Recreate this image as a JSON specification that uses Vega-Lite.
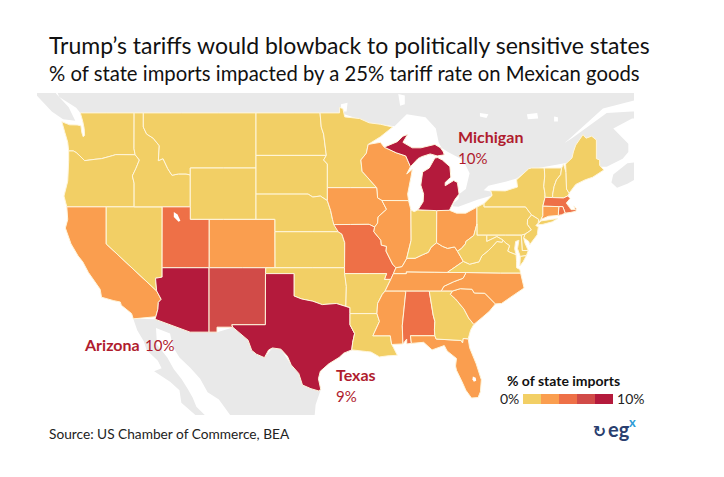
{
"$schema":"https://vega.github.io/schema/vega-lite/v6.json",
"width":597,"height":322,"autosize":"none",
"padding":{"left":37,"top":93,"right":90,"bottom":62},
"background":"white",
"title":{"text":"Trump’s tariffs would blowback to politically sensitive states","subtitle":"% of state imports impacted by a 25% tariff rate on Mexican goods","anchor":"start","frame":"group","dx":12,"offset":8,"font":"Lato","fontSize":23,"fontWeight":"normal","color":"#111111","subtitleFont":"Lato","subtitleFontSize":20.3,"subtitleColor":"#111111","subtitlePadding":6},
"projection":{"type":"mercator","scale":538,"center":[-104.05,45],"translate":[219,75]},
"config":{"view":{"stroke":null},"legend":{"gradientLength":90,"gradientThickness":10}},
"layer":[
{"data":{"values":[
{"type":"Feature","properties":{"name":"Canada"},"geometry":{"type":"Polygon","coordinates":[[[-125.6,51],[-122,51],[-118,51],[-114,51],[-110,51],[-106,51],[-102,51],[-98,51],[-94,51],[-90,51],[-86,51],[-82,51],[-78,51],[-74,51],[-70,51],[-66,51],[-63,51],[-63,50],[-67.1,49.3],[-70.6,47.2],[-71.2,46.85],[-70.4,47.2],[-66.7,49],[-64,49.1],[-63,49.1],[-63,48.6],[-64,48.6],[-66,47.9],[-64.4,46.8],[-64.4,46.2],[-65,45.7],[-66.7,45.1],[-67.45,45.1],[-70,45.5],[-74,45],[-75,44.9],[-76.3,44.2],[-77.5,43.95],[-79.3,43.65],[-79.8,43.3],[-79.05,43.2],[-79,42.88],[-80.4,42.58],[-82.5,42],[-83.1,42.05],[-83,42.3],[-82.5,42.6],[-82.4,43],[-81.7,43.4],[-81.3,44.6],[-82,45.6],[-83.6,46.2],[-84.3,46.5],[-84.6,46.9],[-84.9,47.9],[-86,48.7],[-88,48.9],[-89.3,48.05],[-92,48.3],[-95,49],[-99,49],[-103,49],[-107,49],[-111,49],[-115,49],[-119,49],[-122.76,49],[-123.2,49.35],[-125,50.1],[-125.6,51]]]}},
{"type":"Feature","properties":{"name":"Vancouver Island"},"geometry":{"type":"Polygon","coordinates":[[[-128.5,51],[-125.9,51],[-125.3,50.3],[-124,49.4],[-123.3,48.45],[-124.6,48.55],[-125.8,49.1],[-127.4,50.2],[-128.5,51]]]}},
{"type":"Feature","properties":{"name":"Nova Scotia"},"geometry":{"type":"Polygon","coordinates":[[[-66,44.5],[-64.5,45.35],[-63,45.5],[-63,44.4],[-64.5,43.8],[-65.6,43.5],[-66.2,43.9],[-66,44.5]]]}},
{"type":"Feature","properties":{"name":"Mexico"},"geometry":{"type":"Polygon","coordinates":[[[-117.12,32.53],[-114.81,32.5],[-111.07,31.33],[-108.2,31.33],[-106.5,31.75],[-104.9,30.6],[-103.15,28.98],[-102.3,29.88],[-101.4,29.77],[-100.3,28.3],[-99.5,27.5],[-99.1,26.4],[-97.4,25.84],[-97.15,25.96],[-97.7,24.5],[-97.8,23.5],[-97.8,22.5],[-100,22.5],[-103,22.5],[-105.5,22.5],[-106.8,23.5],[-108,25],[-109.2,25.7],[-110,27],[-111,28],[-112.2,29],[-112.9,30],[-113.2,31.2],[-114.7,31.7],[-114.6,30.2],[-113.5,29],[-112.8,27.9],[-112,27],[-111.3,26],[-110.8,25.2],[-110.4,24.3],[-109.5,23.5],[-109.5,22.5],[-110.5,22.5],[-110.5,23.5],[-112,24.7],[-112.2,25.9],[-113.2,26.7],[-114.9,27.7],[-114.1,28],[-114.5,28.7],[-115.7,29.7],[-116,30.5],[-116.7,31.5],[-117.12,32.53]]]}}
]},"mark":{"type":"geoshape","clip":true,"fill":"#E9E9E9","stroke":null},"encoding":{}},
{"data":{"values":[
{"type":"Feature","properties":{"name":"Lake of the Woods"},"geometry":{"type":"Polygon","coordinates":[[[-95,49.6],[-94.3,49.7],[-94.4,49.1],[-95,49.1],[-95,49.6]]]}},
{"type":"Feature","properties":{"name":"Nipigon"},"geometry":{"type":"Polygon","coordinates":[[[-88.9,50.3],[-88.2,50.2],[-88.2,49.6],[-88.7,49.5],[-88.9,50.3]]]}},
{"type":"Feature","properties":{"name":"Abitibi"},"geometry":{"type":"Polygon","coordinates":[[[-80.2,49],[-79.3,48.9],[-79.5,48.65],[-80.2,48.75],[-80.2,49]]]}},
{"type":"Feature","properties":{"name":"Gouin"},"geometry":{"type":"Polygon","coordinates":[[[-75.2,48.9],[-74.1,49],[-74,48.6],[-75.1,48.55],[-75.2,48.9]]]}},
{"type":"Feature","properties":{"name":"Saint-Jean"},"geometry":{"type":"Polygon","coordinates":[[[-72.3,48.75],[-71.9,48.7],[-71.9,48.4],[-72.3,48.4],[-72.3,48.75]]]}}
]},"mark":{"type":"geoshape","clip":true,"fill":"white","stroke":null},"encoding":{}},
{"data":{"values":[
{"type":"Feature","properties":{"name":"WA","pct":1},"geometry":{"type":"Polygon","coordinates":[[[-124.73,48.38],[-123.9,48.16],[-123.1,48.15],[-122.7,48.1],[-122.6,47.6],[-122.45,47.3],[-122.3,47.4],[-122.35,47.9],[-122.5,48.4],[-122.76,49],[-120,49],[-117.03,49],[-117.04,46.42],[-116.92,45.99],[-118.98,46],[-119.3,45.93],[-120.5,45.7],[-121.2,45.65],[-122.3,45.55],[-122.8,45.9],[-123.2,46.15],[-123.5,46.27],[-124,46.27],[-124.1,46.9],[-124.4,47.6],[-124.73,48.38]]]}},
{"type":"Feature","properties":{"name":"OR","pct":1},"geometry":{"type":"Polygon","coordinates":[[[-124,46.27],[-123.5,46.27],[-123.2,46.15],[-122.8,45.9],[-122.3,45.55],[-121.2,45.65],[-120.5,45.7],[-119.3,45.93],[-118.98,46],[-116.92,45.99],[-116.47,45.6],[-116.85,44.95],[-117.22,44.4],[-117.03,43.85],[-117.03,42],[-120,42],[-124.2,42],[-124.5,42.85],[-124.1,44],[-124,45.5],[-124,46.27]]]}},
{"type":"Feature","properties":{"name":"CA","pct":3},"geometry":{"type":"Polygon","coordinates":[[[-124.2,42],[-120,42],[-120,39],[-114.63,35],[-114.15,34.27],[-114.45,34],[-114.5,33.4],[-114.72,32.72],[-117.12,32.53],[-117.3,33],[-118.4,33.75],[-118.5,34.03],[-119.2,34.15],[-120.5,34.45],[-120.65,35.15],[-121.9,36.6],[-122.5,37.5],[-123,38],[-123.75,39],[-124.35,40.3],[-124.1,41],[-124.2,42]]]}},
{"type":"Feature","properties":{"name":"NV","pct":1},"geometry":{"type":"Polygon","coordinates":[[[-120,42],[-117.03,42],[-114.04,42],[-114.05,37],[-114.05,36.2],[-114.75,36.1],[-114.63,35],[-120,39],[-120,42]]]}},
{"type":"Feature","properties":{"name":"ID","pct":1},"geometry":{"type":"Polygon","coordinates":[[[-117.03,49],[-116.05,49],[-116.05,48],[-115.7,47.5],[-115,47.2],[-114.35,46.65],[-114.45,45.55],[-113.95,45.7],[-113.45,44.95],[-113,44.45],[-112.3,44.55],[-111.5,44.55],[-111.05,44.47],[-111.05,42],[-114.04,42],[-117.03,42],[-117.03,43.85],[-117.22,44.4],[-116.85,44.95],[-116.47,45.6],[-116.92,45.99],[-117.04,46.42],[-117.03,49]]]}},
{"type":"Feature","properties":{"name":"MT","pct":1},"geometry":{"type":"Polygon","coordinates":[[[-116.05,49],[-112,49],[-108,49],[-104.05,49],[-104.05,45],[-107.5,45],[-111.05,45],[-111.05,44.47],[-111.5,44.55],[-112.3,44.55],[-113,44.45],[-113.45,44.95],[-113.95,45.7],[-114.45,45.55],[-114.35,46.65],[-115,47.2],[-115.7,47.5],[-116.05,48],[-116.05,49]]]}},
{"type":"Feature","properties":{"name":"WY","pct":1},"geometry":{"type":"Polygon","coordinates":[[[-111.05,45],[-107.5,45],[-104.05,45],[-104.05,41],[-107.5,41],[-111.05,41],[-111.05,45]]]}},
{"type":"Feature","properties":{"name":"ND","pct":1},"geometry":{"type":"Polygon","coordinates":[[[-104.05,49],[-100,49],[-97.23,49],[-97.1,48],[-96.85,47.5],[-96.56,45.94],[-100,45.94],[-104.05,45.94],[-104.05,49]]]}},
{"type":"Feature","properties":{"name":"SD","pct":1},"geometry":{"type":"Polygon","coordinates":[[[-104.05,45.94],[-100,45.94],[-96.56,45.94],[-96.85,45.6],[-96.45,45.3],[-96.45,43.5],[-96.45,42.49],[-97.2,42.85],[-98,42.77],[-98.5,43],[-100,43],[-104.05,43],[-104.05,45.94]]]}},
{"type":"Feature","properties":{"name":"NE","pct":1},"geometry":{"type":"Polygon","coordinates":[[[-104.05,43],[-100,43],[-98.5,43],[-98,42.77],[-97.2,42.85],[-96.45,42.49],[-96.1,41.7],[-95.9,41],[-95.3,40],[-98,40],[-102.05,40],[-102.05,41],[-104.05,41],[-104.05,43]]]}},
{"type":"Feature","properties":{"name":"KS","pct":1},"geometry":{"type":"Polygon","coordinates":[[[-102.05,40],[-98,40],[-95.3,40],[-94.9,39.8],[-94.6,39.1],[-94.62,37],[-98,37],[-102.04,37],[-102.05,40]]]}},
{"type":"Feature","properties":{"name":"CO","pct":3},"geometry":{"type":"Polygon","coordinates":[[[-109.05,41],[-107.5,41],[-104.05,41],[-102.05,41],[-102.05,40],[-102.04,37],[-105.5,37],[-109.05,37],[-109.05,41]]]}},
{"type":"Feature","properties":{"name":"UT","pct":5},"geometry":{"type":"Polygon","coordinates":[[[-114.04,42],[-111.05,42],[-111.05,41],[-109.05,41],[-109.05,37],[-111.5,37],[-114.05,37],[-114.04,42]]]}},
{"type":"Feature","properties":{"name":"AZ","pct":10},"geometry":{"type":"Polygon","coordinates":[[[-114.05,37],[-111.5,37],[-109.05,37],[-109.05,31.33],[-111.07,31.33],[-114.81,32.5],[-114.72,32.72],[-114.5,33.4],[-114.45,34],[-114.15,34.27],[-114.63,35],[-114.75,36.1],[-114.05,36.2],[-114.05,37]]]}},
{"type":"Feature","properties":{"name":"NM","pct":7},"geometry":{"type":"Polygon","coordinates":[[[-109.05,37],[-105.5,37],[-103,37],[-103.04,36.5],[-103.05,32],[-106.62,32],[-106.53,31.78],[-108.2,31.78],[-108.2,31.33],[-109.05,31.33],[-109.05,37]]]}},
{"type":"Feature","properties":{"name":"OK","pct":1},"geometry":{"type":"Polygon","coordinates":[[[-103,37],[-98,37],[-94.62,37],[-94.43,35.4],[-94.48,33.64],[-95.5,33.9],[-97,33.8],[-98,34.1],[-99.2,34.3],[-100,34.56],[-100,36.5],[-103.04,36.5],[-103,37]]]}},
{"type":"Feature","properties":{"name":"TX","pct":9},"geometry":{"type":"Polygon","coordinates":[[[-103.04,36.5],[-100,36.5],[-100,34.56],[-99.2,34.3],[-98,34.1],[-97,33.8],[-95.5,33.9],[-94.48,33.64],[-94.04,33.55],[-94.04,33],[-94.04,32],[-93.55,31.2],[-93.75,30.4],[-93.85,29.7],[-94.7,29.4],[-95.2,29],[-96.3,28.4],[-97.2,27.7],[-97.4,27],[-97.15,25.96],[-97.4,25.84],[-98.2,26.05],[-99.1,26.4],[-99.5,27.5],[-100.3,28.3],[-100.7,29.1],[-101.4,29.77],[-102.3,29.88],[-102.7,29.7],[-103.15,28.98],[-104,29.3],[-104.5,29.65],[-104.9,30.6],[-106.53,31.78],[-106.62,32],[-103.05,32],[-103.04,36.5]]]}},
{"type":"Feature","properties":{"name":"MN","pct":1},"geometry":{"type":"Polygon","coordinates":[[[-97.23,49],[-95.15,49],[-95.15,49.38],[-94.8,49.3],[-94.6,48.72],[-93,48.6],[-92,48.3],[-90.8,48.2],[-89.5,48],[-90.8,47.3],[-92.1,46.75],[-92.3,46.1],[-92.88,45.6],[-92.75,44.75],[-91.2,43.5],[-94,43.5],[-96.45,43.5],[-96.45,45.3],[-96.85,45.6],[-96.56,45.94],[-96.85,47.5],[-97.1,48],[-97.23,49]]]}},
{"type":"Feature","properties":{"name":"WI","pct":3},"geometry":{"type":"Polygon","coordinates":[[[-92.1,46.75],[-90.8,46.9],[-90.4,46.55],[-89.1,46.13],[-88.1,45.9],[-87.6,45.1],[-88,44.55],[-87.4,44.9],[-87.55,44.3],[-87.9,43],[-87.8,42.49],[-90.64,42.5],[-91.1,42.7],[-91.2,43.5],[-92.75,44.75],[-92.88,45.6],[-92.3,46.1],[-92.1,46.75]]]}},
{"type":"Feature","properties":{"name":"IA","pct":3},"geometry":{"type":"Polygon","coordinates":[[[-96.45,43.5],[-94,43.5],[-91.2,43.5],[-91.1,42.7],[-90.64,42.5],[-90.15,41.8],[-91.05,41.2],[-91.1,40.7],[-91.42,40.38],[-92,40.6],[-94,40.59],[-95.77,40.58],[-95.9,41],[-96.1,41.7],[-96.45,42.49],[-96.45,43.5]]]}},
{"type":"Feature","properties":{"name":"MO","pct":5},"geometry":{"type":"Polygon","coordinates":[[[-95.77,40.58],[-94,40.59],[-92,40.6],[-91.42,40.38],[-91.5,40],[-90.75,39.3],[-90.7,38.9],[-90.15,38.8],[-90.2,38.4],[-89.5,37.3],[-89.15,37],[-89.4,36.5],[-89.7,36],[-90.37,36],[-90.15,36.5],[-92,36.5],[-94.62,36.5],[-94.62,37],[-94.6,39.1],[-94.9,39.8],[-95.3,40],[-95.77,40.58]]]}},
{"type":"Feature","properties":{"name":"AR","pct":1},"geometry":{"type":"Polygon","coordinates":[[[-94.62,36.5],[-92,36.5],[-90.15,36.5],[-90.37,36],[-89.7,36],[-90.3,35],[-90.6,34.7],[-91.1,33.9],[-91.17,33],[-94.04,33],[-94.04,33.55],[-94.48,33.64],[-94.43,35.4],[-94.62,36.5]]]}},
{"type":"Feature","properties":{"name":"LA","pct":1},"geometry":{"type":"Polygon","coordinates":[[[-94.04,33],[-91.17,33],[-90.9,32.3],[-91.6,31],[-89.75,31],[-89.6,30.2],[-89.4,29.9],[-89,29.2],[-90,29.15],[-90.9,29.05],[-91.8,29.5],[-92.3,29.55],[-93.85,29.7],[-93.75,30.4],[-93.55,31.2],[-94.04,32],[-94.04,33]]]}},
{"type":"Feature","properties":{"name":"MS","pct":3},"geometry":{"type":"Polygon","coordinates":[[[-90.3,35],[-88.2,35],[-88.1,34.9],[-88.47,31.9],[-88.4,30.25],[-89.6,30.2],[-89.75,31],[-91.6,31],[-90.9,32.3],[-91.17,33],[-91.1,33.9],[-90.6,34.7],[-90.3,35]]]}},
{"type":"Feature","properties":{"name":"AL","pct":5},"geometry":{"type":"Polygon","coordinates":[[[-88.2,35],[-85.6,35],[-85.18,32.87],[-85,32.3],[-85.05,31.55],[-85,31],[-87.6,31],[-87.5,30.3],[-88,30.25],[-88,30.7],[-88.4,30.25],[-88.47,31.9],[-88.1,34.9],[-88.2,35]]]}},
{"type":"Feature","properties":{"name":"FL","pct":3},"geometry":{"type":"Polygon","coordinates":[[[-87.6,31],[-85,31],[-84.86,30.7],[-82.2,30.57],[-82.05,30.35],[-82,30.75],[-81.45,30.72],[-81.3,29.9],[-80.6,28.4],[-80.05,26.9],[-80.15,25.75],[-80.4,25.2],[-81.1,25.15],[-81.7,25.9],[-82.1,26.7],[-82.7,27.8],[-82.8,28.2],[-82.7,28.9],[-83.7,29.6],[-84,30.1],[-85.3,29.7],[-86.2,30.4],[-87.5,30.3],[-87.6,31]]]}},
{"type":"Feature","properties":{"name":"GA","pct":1},"geometry":{"type":"Polygon","coordinates":[[[-85.6,35],[-83.1,35],[-83.35,34.7],[-82.8,34.3],[-81.9,33.4],[-81.4,32.6],[-80.85,32.03],[-81.2,31.5],[-81.45,30.72],[-82,30.75],[-82.05,30.35],[-82.2,30.57],[-84.86,30.7],[-85,31],[-85.05,31.55],[-85,32.3],[-85.18,32.87],[-85.6,35]]]}},
{"type":"Feature","properties":{"name":"SC","pct":3},"geometry":{"type":"Polygon","coordinates":[[[-83.1,35],[-82.3,35.2],[-81.05,35.15],[-80.8,34.82],[-79.68,34.8],[-78.55,33.86],[-79.2,33.2],[-79.9,32.7],[-80.85,32.03],[-81.4,32.6],[-81.9,33.4],[-82.8,34.3],[-83.35,34.7],[-83.1,35]]]}},
{"type":"Feature","properties":{"name":"NC","pct":3},"geometry":{"type":"Polygon","coordinates":[[[-81.68,36.59],[-78,36.55],[-75.87,36.55],[-75.5,35.25],[-76.5,34.7],[-77.9,33.9],[-78.55,33.86],[-79.68,34.8],[-80.8,34.82],[-81.05,35.15],[-82.3,35.2],[-83.1,35],[-84.32,35],[-84.05,35.4],[-83,35.8],[-82,36.1],[-81.68,36.59]]]}},
{"type":"Feature","properties":{"name":"TN","pct":3},"geometry":{"type":"Polygon","coordinates":[[[-89.42,36.5],[-88.05,36.5],[-88.05,36.65],[-85,36.62],[-83.68,36.6],[-81.68,36.59],[-82,36.1],[-83,35.8],[-84.05,35.4],[-84.32,35],[-85.6,35],[-88.2,35],[-90.3,35],[-89.7,36],[-89.42,36.5]]]}},
{"type":"Feature","properties":{"name":"KY","pct":3},"geometry":{"type":"Polygon","coordinates":[[[-89.42,36.5],[-89.15,37],[-88.5,37.1],[-88,37.8],[-87.1,37.8],[-86.3,38.1],[-85.7,38.3],[-85.4,38.73],[-84.8,39.1],[-84.2,38.8],[-83.65,38.63],[-82.9,38.75],[-82.6,38.4],[-81.97,37.54],[-83.68,36.6],[-85,36.62],[-88.05,36.65],[-88.05,36.5],[-89.42,36.5]]]}},
{"type":"Feature","properties":{"name":"IL","pct":3},"geometry":{"type":"Polygon","coordinates":[[[-90.64,42.5],[-87.8,42.49],[-87.55,41.75],[-87.53,39.3],[-88,37.8],[-88.5,37.1],[-89.15,37],[-89.5,37.3],[-90.2,38.4],[-90.15,38.8],[-90.7,38.9],[-90.75,39.3],[-91.5,40],[-91.42,40.38],[-91.1,40.7],[-91.05,41.2],[-90.15,41.8],[-90.64,42.5]]]}},
{"type":"Feature","properties":{"name":"IN","pct":1},"geometry":{"type":"Polygon","coordinates":[[[-87.55,41.75],[-87.2,41.62],[-86.8,41.76],[-84.8,41.7],[-84.82,39.1],[-85.4,38.73],[-85.7,38.3],[-86.3,38.1],[-87.1,37.8],[-88,37.8],[-87.53,39.3],[-87.55,41.75]]]}},
{"type":"Feature","properties":{"name":"OH","pct":3},"geometry":{"type":"Polygon","coordinates":[[[-84.8,41.7],[-83.45,41.73],[-82.7,41.5],[-81.7,41.5],[-80.52,41.98],[-80.52,40.64],[-80.85,39.7],[-81.7,39.2],[-81.75,39],[-82.2,38.6],[-82.6,38.4],[-82.9,38.75],[-83.65,38.63],[-84.2,38.8],[-84.82,39.1],[-84.8,41.7]]]}},
{"type":"Feature","properties":{"name":"MI","pct":10},"geometry":{"type":"MultiPolygon","coordinates":[[[[-85,45.75],[-84.7,45.78],[-84.2,45.6],[-83.4,45.1],[-83.3,44.3],[-83.9,43.9],[-83.9,43.65],[-83,44.05],[-82.6,43.9],[-82.42,43],[-82.85,42.6],[-83.1,42.25],[-83.45,41.73],[-84.8,41.7],[-86.8,41.76],[-86.25,42.4],[-86.2,43],[-86.5,43.7],[-86.3,44.7],[-85.6,45],[-85,45.75]]],[[[-90.4,46.55],[-89,46.95],[-88.4,47.35],[-87.9,47.47],[-88.4,46.9],[-87.4,46.5],[-86.5,46.5],[-85,46.75],[-84.4,46.5],[-84.1,46.2],[-84,45.98],[-84.75,45.9],[-85.5,46.05],[-86.4,45.85],[-86.8,45.7],[-87.6,45.1],[-88.1,45.9],[-89.1,46.13],[-90.4,46.55]]]]}},
{"type":"Feature","properties":{"name":"PA","pct":1},"geometry":{"type":"Polygon","coordinates":[[[-80.52,41.98],[-79.76,42.27],[-79.76,42],[-77,42],[-75.35,42],[-74.7,41.36],[-75.13,40.98],[-75.15,40.6],[-74.72,40.15],[-75.4,39.8],[-75.8,39.72],[-77.5,39.72],[-79.48,39.72],[-80.52,39.72],[-80.52,40.64],[-80.52,41.98]]]}},
{"type":"Feature","properties":{"name":"NY","pct":1},"geometry":{"type":"MultiPolygon","coordinates":[[[[-79.76,42.27],[-78.9,42.9],[-79.05,43.27],[-77.5,43.25],[-76.2,43.55],[-76.3,44.1],[-75,44.95],[-74.7,45],[-73.35,45],[-73.3,44.4],[-73.4,43.6],[-73.27,43],[-73.27,42.75],[-73.5,42.05],[-73.5,41.3],[-73.7,41],[-74,40.7],[-73.95,41],[-74.7,41.36],[-75.35,42],[-77,42],[-79.76,42],[-79.76,42.27]]],[[[-74,40.62],[-73.7,40.88],[-72.6,41],[-71.9,41.07],[-72.5,40.8],[-73.5,40.6],[-74,40.57],[-74,40.62]]]]}},
{"type":"Feature","properties":{"name":"VT","pct":1},"geometry":{"type":"Polygon","coordinates":[[[-73.35,45],[-71.5,45],[-71.6,44.5],[-72.05,44.1],[-72.3,43.6],[-72.45,43],[-72.46,42.73],[-73.27,42.75],[-73.27,43],[-73.4,43.6],[-73.3,44.4],[-73.35,45]]]}},
{"type":"Feature","properties":{"name":"NH","pct":1},"geometry":{"type":"Polygon","coordinates":[[[-71.5,45],[-71.3,45.3],[-71.03,44.65],[-70.98,43.4],[-70.7,43.07],[-70.82,42.87],[-71.3,42.7],[-72.46,42.73],[-72.45,43],[-72.3,43.6],[-72.05,44.1],[-71.6,44.5],[-71.5,45]]]}},
{"type":"Feature","properties":{"name":"ME","pct":1},"geometry":{"type":"Polygon","coordinates":[[[-71.08,45.3],[-70.4,45.75],[-70.25,46.2],[-70,46.7],[-69.23,47.46],[-68.9,47.2],[-68.3,47.35],[-67.8,47.07],[-67.8,45.7],[-67.45,45.6],[-67.45,45.2],[-67,44.85],[-68.2,44.3],[-69,44.1],[-70,43.75],[-70.7,43.07],[-70.98,43.4],[-71.03,44.65],[-71.08,45.3]]]}},
{"type":"Feature","properties":{"name":"MA","pct":5},"geometry":{"type":"Polygon","coordinates":[[[-73.27,42.75],[-72.46,42.73],[-71.3,42.7],[-70.82,42.87],[-70.6,42.65],[-71,42.3],[-70.65,41.95],[-70.5,41.78],[-70.05,41.78],[-70.2,42.07],[-69.95,41.9],[-69.97,41.65],[-70.6,41.55],[-71.12,41.5],[-71.38,42.02],[-71.8,42.02],[-73.5,42.05],[-73.27,42.75]]]}},
{"type":"Feature","properties":{"name":"RI","pct":5},"geometry":{"type":"Polygon","coordinates":[[[-71.8,42.02],[-71.38,42.02],[-71.12,41.5],[-71.5,41.37],[-71.86,41.32],[-71.8,42.02]]]}},
{"type":"Feature","properties":{"name":"CT","pct":3},"geometry":{"type":"Polygon","coordinates":[[[-73.5,42.05],[-71.8,42.02],[-71.86,41.32],[-72.9,41.25],[-73.7,41],[-73.5,41.3],[-73.5,42.05]]]}},
{"type":"Feature","properties":{"name":"NJ","pct":1},"geometry":{"type":"Polygon","coordinates":[[[-74.7,41.36],[-73.95,41],[-74,40.7],[-74.25,40.5],[-73.98,40.4],[-74.1,39.75],[-74.9,38.93],[-75,39.2],[-75.55,39.5],[-75.4,39.8],[-74.72,40.15],[-75.15,40.6],[-75.13,40.98],[-74.7,41.36]]]}},
{"type":"Feature","properties":{"name":"DE","pct":1},"geometry":{"type":"Polygon","coordinates":[[[-75.79,39.72],[-75.4,39.8],[-75.55,39.5],[-75.4,39.05],[-75.05,38.45],[-75.7,38.45],[-75.79,39.72]]]}},
{"type":"Feature","properties":{"name":"MD","pct":1},"geometry":{"type":"Polygon","coordinates":[[[-79.48,39.72],[-77.5,39.72],[-75.8,39.72],[-75.7,38.45],[-75.05,38.45],[-75.25,38.03],[-75.9,37.95],[-76.2,38.6],[-76.05,39.3],[-76.4,39.2],[-76.5,38.6],[-76.35,38.1],[-77,38.3],[-77.25,38.4],[-77.05,38.85],[-77.5,39.1],[-77.75,39.32],[-78.4,39.6],[-79.48,39.2],[-79.48,39.72]]]}},
{"type":"Feature","properties":{"name":"VA","pct":1},"geometry":{"type":"MultiPolygon","coordinates":[[[[-83.68,36.6],[-81.97,37.54],[-81.3,37.3],[-80.3,37.5],[-80,38],[-79.3,38.45],[-78.85,38.8],[-78.4,39.2],[-77.83,39.14],[-77.75,39.32],[-77.5,39.1],[-77.05,38.85],[-77.25,38.4],[-77,38.3],[-76.35,38.1],[-76.3,37.55],[-76.3,37],[-75.95,36.85],[-75.87,36.55],[-78,36.55],[-81.68,36.59],[-83.68,36.6]]],[[[-75.9,37.95],[-75.25,38.03],[-75.6,37.5],[-75.95,37.15],[-75.9,37.95]]]]}},
{"type":"Feature","properties":{"name":"WV","pct":1},"geometry":{"type":"Polygon","coordinates":[[[-80.52,40.64],[-80.52,39.72],[-79.48,39.72],[-79.48,39.2],[-78.4,39.6],[-77.75,39.32],[-77.83,39.14],[-78.4,39.2],[-78.85,38.8],[-79.3,38.45],[-80,38],[-80.3,37.5],[-81.3,37.3],[-81.97,37.54],[-82.6,38.4],[-82.2,38.6],[-81.75,39],[-81.7,39.2],[-80.85,39.7],[-80.52,40.64]]]}}
]},"mark":{"type":"geoshape","clip":true,"stroke":"#FFF6DC","strokeWidth":1},
"encoding":{"color":{"field":"properties.pct","type":"quantitative","scale":{"type":"quantize","domain":[0,10],"nice":false,"range":["#F2CF65","#FA9E4F","#EE7047","#D14B48","#B41A3C"]},"legend":{"orient":"none","legendX":486,"legendY":301,"direction":"horizontal","title":null,"labelOpacity":0,"labelFontSize":1,"gradientStrokeColor":"#CCCCCC","gradientStrokeWidth":0.5}}}},
{"data":{"values":[
{"type":"Feature","properties":{"name":"Great Salt Lake"},"geometry":{"type":"Polygon","coordinates":[[[-112.8,41.6],[-112.4,41.4],[-112.1,40.9],[-112.3,40.8],[-112.8,41.2],[-112.8,41.6]]]}},
{"type":"Feature","properties":{"name":"Okeechobee"},"geometry":{"type":"Polygon","coordinates":[[[-80.95,27.2],[-80.65,27.1],[-80.6,26.8],[-80.85,26.7],[-81,26.95],[-80.95,27.2]]]}}
]},"mark":{"type":"geoshape","clip":true,"fill":"white","stroke":null},"encoding":{}},
{"data":{"values":[{"t":"Michigan","lon":-82.54,"lat":46.84},{"t":"Arizona","lon":-122.26,"lat":29.6},{"t":"Texas","lon":-95.53,"lat":26.8}]},"mark":{"type":"text","clip":false,"align":"left","baseline":"alphabetic","font":"Lato","fontWeight":"bold","fontSize":16,"color":"#B01C2E"},"encoding":{"longitude":{"field":"lon","type":"quantitative"},"latitude":{"field":"lat","type":"quantitative"},"text":{"field":"t"}}},
{"data":{"values":[{"t":"10%","lon":-82.54,"lat":45.3},{"t":"10%","lon":-115.87,"lat":29.6},{"t":"9%","lon":-95.53,"lat":24.76}]},"mark":{"type":"text","clip":false,"align":"left","baseline":"alphabetic","font":"Lato","fontSize":15,"color":"#B01C2E"},"encoding":{"longitude":{"field":"lon","type":"quantitative"},"latitude":{"field":"lat","type":"quantitative"},"text":{"field":"t"}}},
{"data":{"values":[{"t":"Source: US Chamber of Commerce, BEA","lon":-126.09,"lat":21.14}]},"mark":{"type":"text","clip":false,"align":"left","baseline":"alphabetic","font":"Lato","fontSize":13.7,"color":"#222222"},"encoding":{"longitude":{"field":"lon","type":"quantitative"},"latitude":{"field":"lat","type":"quantitative"},"text":{"field":"t"}}},
{"data":{"values":[{"t":"% of state imports","lon":-77.32,"lat":26.32}]},"mark":{"type":"text","clip":false,"align":"left","baseline":"alphabetic","font":"Lato","fontWeight":"bold","fontSize":14,"color":"#111111"},"encoding":{"longitude":{"field":"lon","type":"quantitative"},"latitude":{"field":"lat","type":"quantitative"},"text":{"field":"t"}}},
{"data":{"values":[{"t":"0%","lon":-78.07,"lat":24.58},{"t":"10%","lon":-65.6,"lat":24.58}]},"mark":{"type":"text","clip":false,"align":"left","baseline":"alphabetic","font":"Lato","fontSize":14,"color":"#222222"},"encoding":{"longitude":{"field":"lon","type":"quantitative"},"latitude":{"field":"lat","type":"quantitative"},"text":{"field":"t"}}},
{"data":{"values":[{"t":"eg","lon":-66.56,"lat":21.34}]},"mark":{"type":"text","clip":false,"align":"left","baseline":"alphabetic","font":"Lato","fontWeight":"bold","fontSize":20,"color":"#2A3F6F"},"encoding":{"longitude":{"field":"lon","type":"quantitative"},"latitude":{"field":"lat","type":"quantitative"},"text":{"field":"t"}}},
{"data":{"values":[{"t":"↻","lon":-68.2,"lat":21.34}]},"mark":{"type":"text","clip":false,"align":"left","baseline":"alphabetic","font":"DejaVu Sans","fontWeight":"bold","fontSize":16,"color":"#2A3F6F"},"encoding":{"longitude":{"field":"lon","type":"quantitative"},"latitude":{"field":"lat","type":"quantitative"},"text":{"field":"t"}}},
{"data":{"values":[{"t":"x","lon":-64.33,"lat":22.34}]},"mark":{"type":"text","clip":false,"align":"left","baseline":"alphabetic","font":"Lato","fontWeight":"bold","fontSize":13,"color":"#2E9BD6"},"encoding":{"longitude":{"field":"lon","type":"quantitative"},"latitude":{"field":"lat","type":"quantitative"},"text":{"field":"t"}}}
]
}
